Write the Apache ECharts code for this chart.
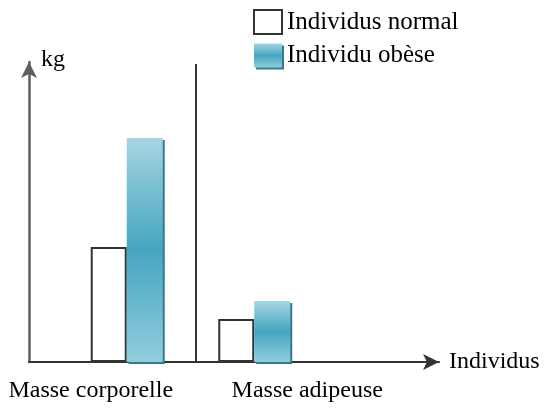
<!DOCTYPE html>
<html>
<head>
<meta charset="utf-8">
<script src="https://cdn.jsdelivr.net/npm/echarts@6/dist/echarts.min.js"></script>
<style>
  html, body { margin: 0; padding: 0; background: #fff; }
  #main { width: 548px; height: 410px; }
</style>
</head>
<body>
<div id="main"></div>
<script>
// données (kg, échelle relative)
const categories = ["Masse corporelle", "Masse adipeuse"];
const normalValues = [57.5, 21.5];
const obeseValues = [112, 30.5];
const seriesNames = ["Individus normal", "Individu obèse"];
const yMax = 150;

const serif = "'Liberation Serif', 'DejaVu Serif', serif";

let chart = echarts.init(document.getElementById("main"));

// dégradé des barres bleues (clair en haut et en bas, foncé au milieu)
const blueFill = new echarts.graphic.LinearGradient(0, 0, 0, 1, [
  { offset: 0, color: "#a6d5e2" },
  { offset: 0.5, color: "#45a5c1" },
  { offset: 1, color: "#92cddd" },
]);

chart.setOption({
  animation: false,
  backgroundColor: "#fff",
  legend: {
    orient: "vertical",
    left: 248,
    top: 4,
    itemWidth: 28,
    itemHeight: 24,
    itemGap: 8,
    icon: "rect",
    data: [
      { name: seriesNames[0] },
      {
        name: seriesNames[1],
        itemStyle: { shadowColor: "#2f7d92", shadowOffsetX: 2, shadowOffsetY: 2, shadowBlur: 0 },
      },
    ],
    textStyle: { fontFamily: serif, fontSize: 25, color: "#000" },
  },
  grid: [
    // grille des barres
    { left: 63, width: 255, top: 62, bottom: 48 },
    // grille des axes fléchés
    { left: 29, right: 109, top: 62, bottom: 48 },
  ],
  xAxis: [
    {
      type: "category",
      gridIndex: 0,
      data: categories,
      axisLine: { show: false },
      axisTick: { show: false },
      axisLabel: {
        interval: 0,
        margin: 17,
        formatter: (v, i) => "{c" + i + "|" + v + "}",
        rich: {
          c0: { fontFamily: serif, fontSize: 24, color: "#000", padding: [0, 72, 0, 0] },
          c1: { fontFamily: serif, fontSize: 24, color: "#000", padding: [0, 0, 0, 106] },
        },
      },
    },
    {
      type: "value",
      gridIndex: 1,
      min: 0,
      max: 1,
      name: "Individus",
      nameLocation: "end",
      nameGap: 10,
      nameTextStyle: { fontFamily: serif, fontSize: 24, color: "#000" },
      axisLine: {
        show: true,
        symbol: ["none", "arrow"],
        symbolSize: [12, 16],
        lineStyle: { color: "#333", width: 2 },
      },
      axisTick: { show: false },
      axisLabel: { show: false },
      splitLine: { show: false },
    },
  ],
  yAxis: [
    {
      type: "value",
      gridIndex: 0,
      min: 0,
      max: yMax,
      show: false,
    },
    {
      type: "value",
      gridIndex: 1,
      min: 0,
      max: 1,
      name: "kg",
      nameLocation: "end",
      nameGap: -10,
      nameTextStyle: {
        fontFamily: serif,
        fontSize: 24,
        color: "#000",
        align: "left",
        padding: [0, 0, 0, 12],
      },
      axisLine: {
        show: true,
        symbol: ["none", "arrow"],
        symbolSize: [12, 16],
        lineStyle: { color: "#5e5e5e", width: 2.5 },
      },
      axisTick: { show: false },
      axisLabel: { show: false },
      splitLine: { show: false },
    },
  ],
  graphic: [
    {
      // trait vertical séparant les deux groupes
      type: "line",
      shape: { x1: 196, y1: 64, x2: 196, y2: 362 },
      style: { stroke: "#333", lineWidth: 2 },
      z: 1,
    },
  ],
  series: [
    {
      name: seriesNames[0],
      type: "bar",
      xAxisIndex: 0,
      yAxisIndex: 0,
      barWidth: 36,
      barGap: "0%",
      data: normalValues,
      itemStyle: { color: "#fff", borderColor: "#333", borderWidth: 2 },
    },
    {
      name: seriesNames[1],
      type: "bar",
      xAxisIndex: 0,
      yAxisIndex: 0,
      barWidth: 36,
      data: obeseValues,
      itemStyle: {
        color: blueFill,
        borderWidth: 0,
        shadowColor: "#2f7d92",
        shadowOffsetX: 2,
        shadowOffsetY: 2,
        shadowBlur: 0,
      },
    },
  ],
});

window.onresize = function () {
  chart.resize();
};
</script>
</body>
</html>
